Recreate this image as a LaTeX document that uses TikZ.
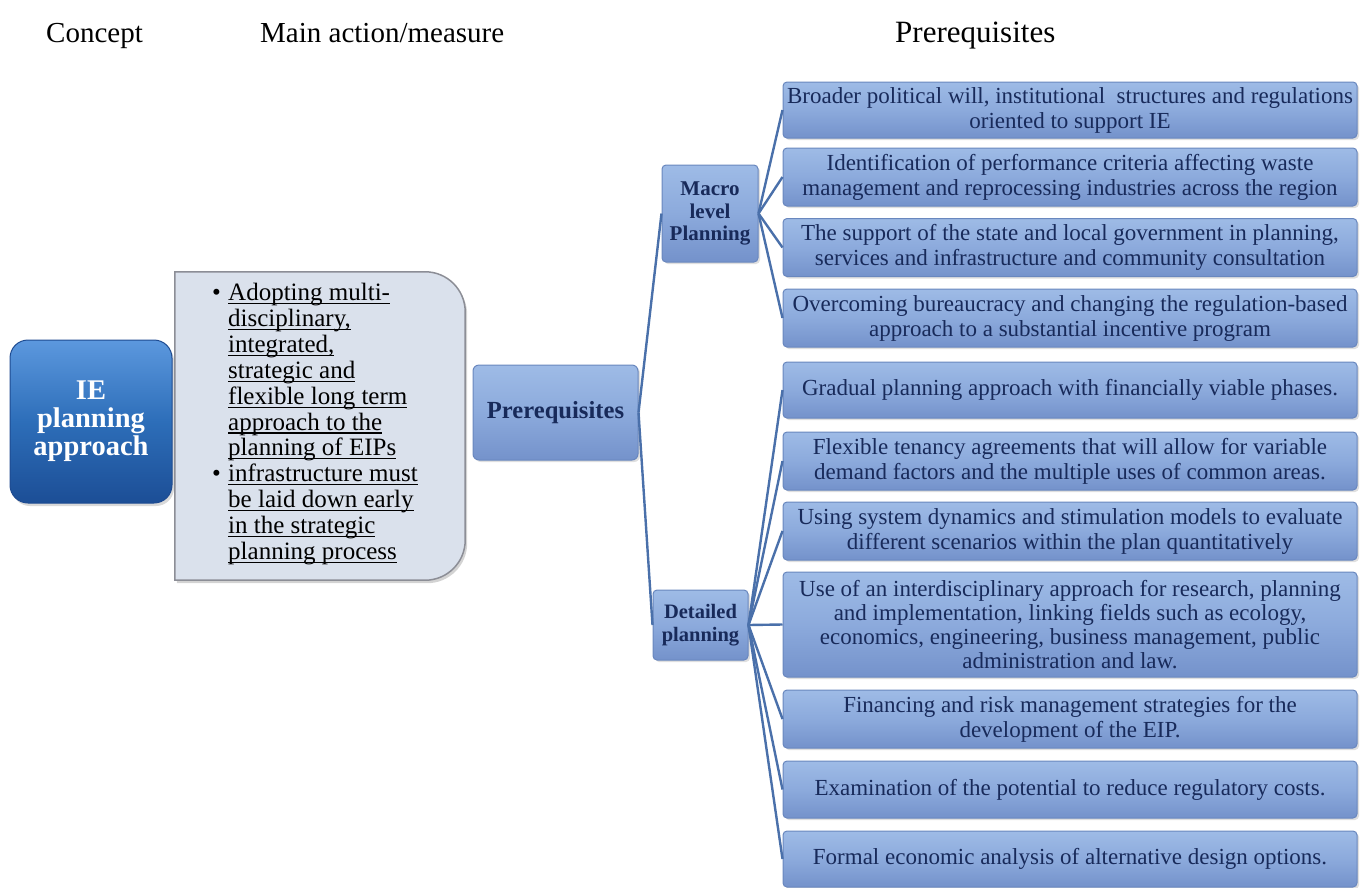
\documentclass[tikz,border=0pt]{standalone}
\usepackage{fontspec}
\setmainfont{Liberation Serif}
\usetikzlibrary{shadows}
\newsavebox{\myulbox}
\newcommand{\myul}[1]{\sbox{\myulbox}{#1}\rlap{\rule[-3.5pt]{\wd\myulbox}{1.1pt}}\usebox{\myulbox}}
\definecolor{linec}{RGB}{74,112,170}
\definecolor{navy}{RGB}{24,42,90}
\definecolor{boxtop}{RGB}{158,187,230}
\definecolor{boxmid}{RGB}{140,170,220}
\definecolor{boxbot}{RGB}{116,146,203}
\definecolor{boxedge}{RGB}{105,135,190}
\definecolor{ietop}{RGB}{92,152,222}
\definecolor{iemid}{RGB}{45,110,185}
\definecolor{iebot}{RGB}{28,78,150}
\definecolor{ieedge}{RGB}{30,75,145}
\definecolor{midfill}{RGB}{218,225,236}
\definecolor{midedge}{RGB}{140,142,150}
\begin{document}
\begin{tikzpicture}[x=1pt,y=1pt,
  hdr/.style={anchor=base west, inner sep=0pt, font=\fontsize{29}{34}\selectfont},
  conn/.style={draw=linec, line width=2.4pt},
  bluebox/.style={rectangle, rounded corners=4pt, draw=boxedge, line width=1pt,
    top color=boxtop, bottom color=boxbot, middle color=boxmid, text=navy,
    inner sep=0pt, align=center,
    drop shadow={opacity=0.25, shadow xshift=2pt, shadow yshift=-2pt}},
  itembox/.style={bluebox, minimum width=574pt, font=\fontsize{23}{25}\selectfont},
  hubbox/.style={bluebox, font=\bfseries\fontsize{21}{22.5}\selectfont}
]
\useasboundingbox (0,0) rectangle (1361,-887);

% headers
\node[hdr] (h1) at (46,-42) {Concept};
\node[hdr] (h2) at (260,-42) {Main action/measure};
\node[hdr, font=\fontsize{31}{36}\selectfont] (h3) at (895,-42) {Prerequisites};

% concept box
\node[rectangle, rounded corners=18pt, draw=ieedge, line width=1pt,
  top color=ietop, bottom color=iebot, middle color=iemid,
  minimum width=162pt, minimum height=163pt, inner sep=0pt, align=center,
  text=white, font=\bfseries\fontsize{28.5}{28}\selectfont,
  drop shadow={opacity=0.3, shadow xshift=2pt, shadow yshift=-3pt}]
  (ie) at (91,-421.5) {IE\\planning\\approach};

% main action box
\node[rectangle, minimum width=290pt, minimum height=308pt, inner sep=0pt] (mid) at (320,-426) {};
\path[fill=midfill, draw=midedge, line width=1.5pt,
  drop shadow={opacity=0.35, shadow xshift=2pt, shadow yshift=-3pt}]
  (mid.south west) -- (mid.north west) -- ([xshift=-40pt]mid.north east)
  arc[start angle=90, end angle=0, radius=40pt]
  -- ([yshift=40pt]mid.south east)
  arc[start angle=0, end angle=-90, radius=40pt] -- cycle;
\node[anchor=north west, inner sep=0pt, align=left, text=black,
  font=\fontsize{25}{25.9}\selectfont] (midtext) at (212,-283)
  {\makebox[16pt][l]{\textbullet}\myul{Adopting multi-}\\
   \hspace*{16pt}\myul{disciplinary,}\\
   \hspace*{16pt}\myul{integrated,}\\
   \hspace*{16pt}\myul{strategic and}\\
   \hspace*{16pt}\myul{flexible long term}\\
   \hspace*{16pt}\myul{approach to the}\\
   \hspace*{16pt}\myul{planning of EIPs}\\
   \makebox[16pt][l]{\textbullet}\myul{infrastructure must}\\
   \hspace*{16pt}\myul{be laid down early}\\
   \hspace*{16pt}\myul{in the strategic}\\
   \hspace*{16pt}\myul{planning process}};

% prerequisites hub
\node[bluebox, rounded corners=6pt, minimum width=165pt, minimum height=95pt,
  font=\bfseries\fontsize{24.6}{26}\selectfont] (pre) at (555.5,-412.5) {Prerequisites};
\node[hubbox, minimum width=96pt, minimum height=97pt] (macro) at (710,-213.5) {Macro\\level\\Planning};
\node[hubbox, minimum width=95pt, minimum height=70pt, font=\bfseries\fontsize{20.5}{22.5}\selectfont] (det) at (700.5,-625) {Detailed\\planning};

% right boxes
\node[itembox, minimum height=56pt] (r1) at (1070,-110)
  {Broader political will, institutional~ structures and regulations\\oriented to support IE};
\node[itembox, minimum height=58pt] (r2) at (1070,-177)
  {Identification of performance criteria affecting waste\\management and reprocessing industries across the region};
\node[itembox, minimum height=58pt] (r3) at (1070,-247.5)
  {The support of the state and local government in planning,\\services and infrastructure and community consultation};
\node[itembox, minimum height=58pt] (r4) at (1070,-318)
  {Overcoming bureaucracy and changing the regulation-based\\approach to a substantial incentive program};
\node[itembox, minimum height=56pt] (r5) at (1070,-390)
  {Gradual planning approach with financially viable phases.};
\node[itembox, minimum height=58pt] (r6) at (1070,-461)
  {Flexible tenancy agreements that will allow for variable\\demand factors and the multiple uses of common areas.};
\node[itembox, minimum height=58pt] (r7) at (1070,-531)
  {Using system dynamics and stimulation models to evaluate\\different scenarios within the plan quantitatively};
\node[itembox, minimum height=105pt, font=\fontsize{23}{23.8}\selectfont] (r8) at (1070,-624.5)
  {Use of an interdisciplinary approach for research, planning\\and implementation, linking fields such as ecology,\\economics, engineering, business management, public\\administration and law.};
\node[itembox, minimum height=58pt] (r9) at (1070,-719)
  {Financing and risk management strategies for the\\development of the EIP.};
\node[itembox, minimum height=57pt] (r10) at (1070,-789.5)
  {Examination of the potential to reduce regulatory costs.};
\node[itembox, minimum height=56pt] (r11) at (1070,-859)
  {Formal economic analysis of alternative design options.};

% connectors
\draw[conn] (pre.east) -- (macro.west);
\draw[conn] (pre.east) -- (det.west);
\foreach \r in {r1,r2,r3,r4} { \draw[conn] (macro.east) -- (\r.west); }
\foreach \r in {r5,r6,r7,r8,r9,r10,r11} { \draw[conn] (det.east) -- (\r.west); }
\end{tikzpicture}
\end{document}
